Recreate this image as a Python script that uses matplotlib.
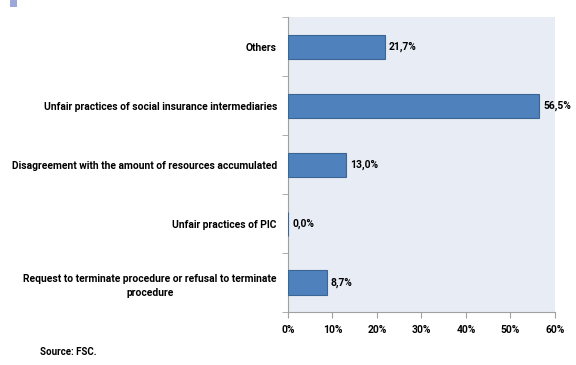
import numpy as np
import matplotlib.pyplot as plt
from matplotlib.patches import Rectangle

categories = ['Request to terminate procedure or refusal to terminate\nprocedure',
              'Unfair practices of PIC',
              'Disagreement with the amount of resources accumulated',
              'Unfair practices of social insurance intermediaries',
              'Others']
values = [8.7, 0.0, 13.0, 56.5, 21.7]
xticks = [0, 10, 20, 30, 40, 50, 60]

plt.rcParams['font.family'] = ['Roboto', 'DejaVu Sans']
plt.rcParams['font.weight'] = 'bold'
fs = 7.4

fig = plt.figure(figsize=(5.76, 3.65), dpi=100)
ax = fig.add_axes([0.5, 0.145, 0.4635, 0.808])
ax.set_facecolor('#E8ECF4')

y = np.arange(len(categories))
ax.barh(y, values, height=0.41, color='#4F81BD', edgecolor='#3A6595', linewidth=0.8, zorder=3)
for yi, v in zip(y, values):
    ax.text(v + 0.9, yi, ('%.1f%%' % v).replace('.', ','), va='center', ha='left',
            fontsize=fs, fontweight='bold', color='black')

ax.set_xlim(0, 60)
ax.set_ylim(-0.5, 4.5)
ax.set_xticks(xticks)
ax.set_xticklabels(['%d%%' % t for t in xticks], fontsize=fs, fontweight='bold')
ax.set_yticks(y)
ax.set_yticklabels(categories, fontsize=fs, fontweight='bold', ha='right',
                   multialignment='center', linespacing=1.6)
ax.tick_params(axis='y', length=0, pad=8)
ax.set_yticks(np.arange(-0.5, 5, 1), minor=True)
ax.tick_params(axis='y', which='minor', length=4, color='#A0A0A0')
ax.tick_params(axis='x', length=4, color='#A0A0A0', pad=5)

for s in ['top', 'right']:
    ax.spines[s].set_visible(False)
for s in ['left', 'bottom']:
    ax.spines[s].set_color('#A0A0A0')
    ax.spines[s].set_linewidth(0.8)

# small marker square at top-left corner
fig.patches.append(Rectangle((10 / 576, 1 - 7 / 365), 7 / 576, 7 / 365,
                             transform=fig.transFigure, facecolor='#9BA8D8', edgecolor='none'))

fig.text(40 / 576, 1 - 352 / 365, 'Source: FSC.', fontsize=fs - 0.4, fontweight='bold', va='center')

fig.savefig('out.png', dpi=100)
